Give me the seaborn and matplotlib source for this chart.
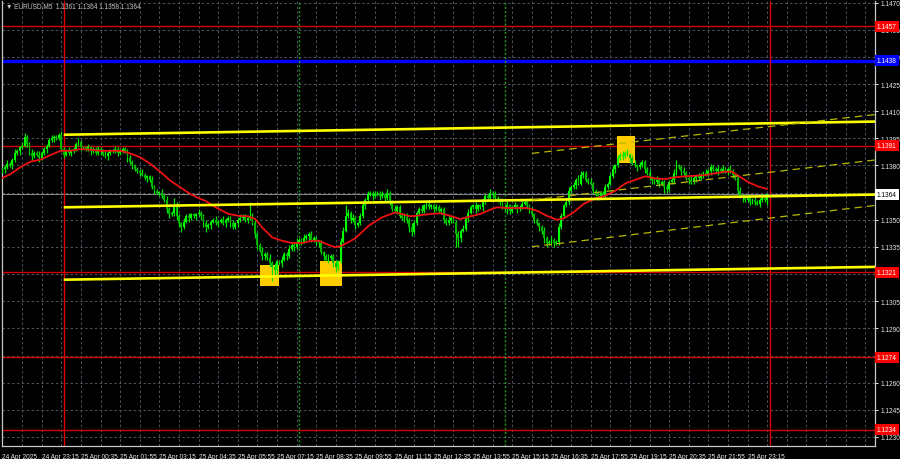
import numpy as np
import pandas as pd
import matplotlib
matplotlib.use("Agg")
import matplotlib.pyplot as plt
import matplotlib.transforms as mtransforms
from matplotlib import font_manager
import seaborn as sns

# ---------------- data (prices in pips above BASE) ----------------
BASE = 1.1300
PIP = 0.0001

CLOSE_PIPS = [
    78, 79, 81, 80, 83, 87, 88, 90, 91, 96, 92, 87, 85, 87, 86, 84, 87, 89, 91, 94,
    95, 96, 95, 97, 89, 86, 88, 87, 88, 89, 92, 93, 90, 90, 89, 90, 88, 89, 87, 89,
    88, 86, 85, 87, 88, 88, 89, 87, 88, 89, 88, 84, 82, 80, 78, 77, 76, 75, 73, 74,
    72, 68, 66, 65, 65, 63, 61, 56, 53, 54, 58, 52, 48, 46, 49, 52, 51, 53, 52, 53,
    54, 52, 48, 46, 47, 49, 50, 48, 49, 50, 48, 50, 51, 48, 46, 48, 50, 51, 52, 50,
    51, 52, 48, 42, 36, 33, 30, 31, 29, 26, 24, 22, 27, 26, 28, 31, 30, 34, 36, 35,
    38, 39, 38, 40, 41, 42, 39, 40, 38, 37, 32, 30, 28, 29, 30, 26, 24, 27, 38, 44,
    52, 54, 50, 51, 47, 48, 52, 58, 61, 64, 65, 63, 64, 65, 63, 64, 62, 65, 60, 56,
    55, 57, 52, 51, 53, 50, 46, 43, 48, 54, 56, 55, 58, 59, 57, 58, 56, 57, 55, 56,
    50, 48, 50, 51, 49, 42, 40, 44, 45, 51, 54, 57, 58, 56, 58, 57, 60, 63, 62, 65,
    64, 62, 61, 60, 57, 56, 58, 55, 57, 58, 56, 57, 59, 60, 58, 55, 53, 50, 48, 46,
    44, 40, 37, 38, 39, 37, 38, 46, 52, 58, 60, 66, 68, 69, 72, 70, 75, 76, 72, 71,
    70, 66, 64, 63, 65, 64, 68, 70, 74, 78, 80, 84, 86, 85, 87, 86, 84, 81, 80, 79,
    80, 82, 78, 76, 73, 72, 71, 72, 70, 71, 68, 67, 71, 72, 76, 80, 79, 77, 76, 73,
    72, 71, 73, 74, 73, 75, 76, 75, 77, 79, 78, 77, 78, 77, 78, 77, 78, 77, 75, 73,
    66, 63, 62, 61, 62, 60, 61, 60, 59, 61, 62, 61, 64,
]
FIRST_OPEN_PIPS = 77

UP_WICK = [
    1, 1, 2, 1, 1, 2, 1, 1, 2, 2, 1, 1, 2, 1, 1, 2, 1, 1, 1, 1,
    2, 1, 1, 1, 2, 1, 1, 2, 1, 1, 1, 2, 1, 1, 1, 2, 1, 1, 1, 2,
    1, 1, 2, 1, 1, 1, 2, 1, 1, 1, 1, 1, 2, 1, 1, 1, 1, 2, 1, 1,
    1, 2, 1, 1, 1, 2, 1, 2, 1, 1, 4, 2, 1, 1, 2, 1, 2, 1, 1, 1,
    2, 1, 1, 2, 1, 1, 1, 2, 1, 1, 2, 1, 1, 1, 2, 1, 1, 2, 1, 1,
    1, 8, 2, 2, 1, 1, 2, 1, 1, 2, 1, 2, 1, 1, 2, 1, 1, 2, 1, 1,
    2, 1, 1, 2, 1, 1, 2, 1, 1, 1, 2, 1, 1, 2, 1, 1, 2, 1, 2, 2,
    6, 2, 1, 2, 1, 1, 2, 2, 1, 2, 1, 1, 2, 1, 1, 2, 1, 2, 1, 1,
    2, 1, 1, 2, 1, 1, 1, 2, 2, 1, 1, 2, 1, 1, 2, 1, 1, 2, 1, 1,
    1, 1, 2, 1, 1, 1, 2, 1, 2, 1, 2, 1, 1, 2, 1, 1, 2, 1, 1, 2,
    1, 2, 1, 1, 2, 1, 3, 1, 1, 2, 1, 1, 2, 1, 1, 1, 2, 1, 1, 1,
    1, 2, 1, 1, 2, 1, 1, 2, 2, 1, 2, 2, 1, 2, 1, 3, 2, 1, 1, 1,
    2, 1, 1, 2, 1, 1, 2, 1, 2, 2, 1, 2, 1, 2, 1, 2, 1, 2, 2, 1,
    2, 1, 1, 1, 2, 1, 1, 2, 1, 1, 1, 2, 1, 2, 2, 3, 1, 1, 2, 1,
    1, 2, 1, 1, 2, 1, 1, 2, 1, 2, 1, 1, 2, 1, 2, 1, 1, 2, 1, 1,
    1, 2, 1, 1, 2, 1, 1, 2, 1, 1, 2, 1, 0,
]
DN_WICK = [
    1, 2, 1, 1, 2, 1, 1, 2, 1, 1, 2, 1, 2, 1, 1, 2, 1, 1, 2, 1,
    1, 2, 1, 1, 1, 2, 1, 1, 2, 1, 1, 1, 2, 1, 1, 1, 2, 1, 1, 1,
    2, 1, 1, 2, 1, 1, 1, 2, 1, 1, 1, 2, 1, 2, 1, 1, 2, 1, 1, 2,
    1, 1, 2, 1, 2, 1, 1, 2, 2, 1, 2, 2, 2, 3, 1, 1, 2, 1, 1, 2,
    1, 2, 2, 3, 1, 2, 1, 1, 2, 1, 1, 2, 1, 2, 1, 1, 2, 1, 1, 1,
    2, 1, 1, 2, 2, 1, 2, 2, 1, 2, 8, 3, 2, 1, 2, 1, 2, 1, 1, 2,
    1, 1, 2, 1, 1, 2, 1, 1, 2, 2, 1, 2, 1, 2, 1, 2, 3, 2, 1, 1,
    1, 1, 2, 1, 2, 1, 1, 1, 2, 1, 1, 2, 1, 1, 2, 1, 2, 1, 2, 1,
    1, 2, 1, 1, 2, 2, 3, 2, 1, 1, 2, 1, 1, 2, 1, 1, 2, 1, 1, 2,
    2, 1, 1, 2, 1, 7, 5, 2, 1, 1, 2, 1, 1, 2, 1, 1, 2, 1, 1, 1,
    2, 1, 1, 2, 1, 1, 3, 2, 1, 1, 2, 1, 1, 1, 2, 1, 1, 2, 1, 2,
    2, 3, 2, 1, 2, 2, 1, 2, 1, 1, 1, 2, 1, 1, 2, 1, 1, 2, 1, 1,
    1, 2, 1, 2, 1, 1, 2, 1, 1, 1, 2, 1, 1, 2, 1, 1, 2, 1, 1, 2,
    1, 1, 2, 1, 1, 2, 1, 1, 2, 1, 3, 2, 1, 1, 2, 1, 1, 2, 1, 1,
    2, 1, 1, 2, 1, 1, 2, 1, 1, 2, 1, 1, 2, 1, 1, 1, 2, 1, 2, 1,
    2, 1, 2, 1, 1, 2, 1, 2, 1, 2, 1, 1, 3,
]

# moving average
MA_BAR = [0, 3.3, 7.3, 11.4, 15.5, 19.6, 23.7, 27.7, 31.8, 35.9, 40, 44, 48.1, 51,
          56.3, 60.4, 64.4, 68.5, 72.6, 76.7, 80.8, 82.8, 86.9, 92.3, 96.4, 100.4,
          103.2, 105.9, 110, 114.1, 118.1, 122.2, 126.3, 129, 133.1, 135.8, 138.5,
          144, 149.4, 154.9, 160.3, 166.4, 174.5, 178.6, 182.7, 186.8, 190.9, 194.9,
          199, 201.8, 205.8, 214, 218.1, 222.1, 226.2, 229, 233, 237.1, 239.8, 241.8,
          245.9, 250, 254.1, 258.2, 262.2, 266.3, 270.4, 274.5, 278.6, 286.7, 290.8,
          294.9, 297.6, 300.3, 304.4, 308.5, 311.9]
MA_PIPS = [73.1, 75.3, 79.1, 82.1, 83.2, 85.8, 88.1, 88.1, 89.1, 88.7, 88.1, 88.1, 88.1,
           87.2, 84.5, 80.8, 76.5, 71.6, 67.9, 64.2, 61.5, 60.5, 56.9, 53.2, 52.2, 51.9,
           50.4, 45.8, 40.3, 38.4, 37.2, 37.2, 38.4, 38.4, 36.1, 34.8, 35.7, 39.8, 46.7,
           51.4, 54.1, 51.9, 53.2, 53.6, 52.2, 50.4, 51.9, 53.2, 55.6, 56.9, 56.5, 56.5,
           55.0, 52.2, 50.0, 50.8, 54.1, 58.7, 60.5, 61.8, 63.3, 66.0, 70.1, 72.1, 74.0,
           72.9, 72.5, 73.5, 74.0, 74.7, 75.7, 76.6, 76.6, 74.3, 70.7, 68.3, 67.0]

LEVEL_RED = [1.1457, 1.1391, 1.1321, 1.1274, 1.1234]
LEVEL_BLUE = 1.1438
LAST_PRICE = 1.1364

TREND_BARS = [25, 357]
TREND_UPPER = [97.0, 104.3]
TREND_MID = [56.9, 63.95]
TREND_LOWER = [16.9, 24.0]
CHAN_BARS = [216, 357]
CHAN_UPPER = [86.7, 108.3]
CHAN_MID = [60.9, 83.2]
CHAN_LOWER = [35.1, 58.1]

SIGNAL_BAR0 = [104.9, 129.7, 250.9]
SIGNAL_BAR1 = [112.9, 138.7, 258.0]
SIGNAL_LO = [13.6, 13.4, 81.2]
SIGNAL_HI = [25.2, 27.2, 96.1]

DAY_BREAK_BARS = [25, 313]
SESSION_BARS = [121, 205]

XTICK_LABELS = ["24 Apr 2025", "24 Apr 23:15", "25 Apr 00:35", "25 Apr 01:55",
                "25 Apr 03:15", "25 Apr 04:35", "25 Apr 05:55", "25 Apr 07:15",
                "25 Apr 08:35", "25 Apr 09:55", "25 Apr 11:15", "25 Apr 12:35",
                "25 Apr 13:55", "25 Apr 15:15", "25 Apr 16:35", "25 Apr 17:55",
                "25 Apr 19:15", "25 Apr 20:35", "25 Apr 21:55", "25 Apr 23:15"]
YTICK_PRICES = [1.1230, 1.1245, 1.1260, 1.1275, 1.1290, 1.1305, 1.1320, 1.1335,
                1.1350, 1.1365, 1.1380, 1.1395, 1.1410, 1.1425, 1.1440, 1.1455, 1.1470]
# tick labels hidden behind the coloured price boxes in the reference
YTICK_HIDDEN = [1.1275, 1.1320, 1.1365]
TITLE = "\u25BC EURUSD,M5  1.1361 1.1364 1.1358 1.1364"

# ---------------- build ----------------
n = len(CLOSE_PIPS)
close = BASE + np.array(CLOSE_PIPS, float) * PIP
opn = np.r_[BASE + FIRST_OPEN_PIPS * PIP, close[:-1]]
up = np.array(UP_WICK[:n] + [1] * max(0, n - len(UP_WICK)), float) * PIP
dn = np.array(DN_WICK[:n] + [1] * max(0, n - len(DN_WICK)), float) * PIP
high = np.maximum(opn, close) + up
low = np.minimum(opn, close) - dn
bars = np.arange(n)
df = pd.DataFrame({"bar": bars, "open": opn, "close": close, "high": high, "low": low})
ma = pd.DataFrame({"bar": MA_BAR, "price": BASE + np.array(MA_PIPS) * PIP})

sns.set_style("dark")


def pick_font():
    for name in ["Liberation Sans Narrow", "Liberation Sans", "DejaVu Sans"]:
        try:
            font_manager.findfont(name, fallback_to_default=False)
            return name
        except Exception:
            continue
    return "DejaVu Sans"


FONT = pick_font()
FS = 5.3 if "Narrow" in FONT else 4.7
plt.rcParams.update({"font.family": [FONT, "DejaVu Sans"],
                     "axes.facecolor": "black", "figure.facecolor": "black"})

W, H = 900, 460
fig = plt.figure(figsize=(W / 100, H / 100), dpi=100)
ax = fig.add_axes([2 / W, 1 - 447 / H, 873 / W, 445 / H])
ax.set_facecolor("black")

XMIN, XMAX = -0.2, 356.0
YMIN, YMAX = 1.12250, 1.14709
ax.set_xlim(XMIN, XMAX)
ax.set_ylim(YMIN, YMAX)

grid_kw = dict(color="#4d5560", lw=0.7, ls=(0, (2.5, 2.5)), zorder=0.5)
for p in YTICK_PRICES:
    ax.axhline(p, **grid_kw)
for b in range(8, 356, 8):
    ax.axvline(b, **grid_kw)

# horizontal levels
for p in LEVEL_RED:
    ax.axhline(p, color="#d00000", lw=1.0, zorder=1)
ax.axhline(LEVEL_BLUE, color="#0000ff", lw=2.4, zorder=1)
ax.axhline(LAST_PRICE, color="#8a8a8a", lw=0.7, zorder=1)

# vertical markers
for b in DAY_BREAK_BARS:
    ax.axvline(b, color="#e00000", lw=1.0, zorder=1)
for b in SESSION_BARS:
    ax.axvline(b, color="#1f9a1f", lw=1.0, ls=(0, (1.5, 1.5)), zorder=1)

# signal squares
for b0, b1, lo, hi in zip(SIGNAL_BAR0, SIGNAL_BAR1, SIGNAL_LO, SIGNAL_HI):
    ax.add_patch(plt.Rectangle((b0, BASE + lo * PIP), b1 - b0, (hi - lo) * PIP,
                               facecolor="#ffcc00", edgecolor="none", zorder=2))

# candles
bull = df["close"] >= df["open"]
ax.vlines(df["bar"], df["low"], df["high"], color="#00e600", lw=0.9, zorder=3)
body_lo = np.minimum(df["open"], df["close"])
body_h = np.maximum(np.abs(df["close"] - df["open"]), 0.00004)
ax.bar(df["bar"][bull], body_h[bull], bottom=body_lo[bull], width=0.75,
       color="#00ff00", linewidth=0, zorder=3.2)
ax.bar(df["bar"][~bull], body_h[~bull], bottom=body_lo[~bull], width=0.75,
       color="#00b400", linewidth=0, zorder=3.2)

# moving average
sns.lineplot(data=ma, x="bar", y="price", color="#ee1111", lw=1.3, ax=ax, zorder=4)

# trend lines
for vals in (TREND_UPPER, TREND_MID, TREND_LOWER):
    ax.plot(TREND_BARS, [BASE + v * PIP for v in vals], color="#ffff00", lw=1.9,
            zorder=5, solid_capstyle="butt")
for vals in (CHAN_UPPER, CHAN_MID, CHAN_LOWER):
    ax.plot(CHAN_BARS, [BASE + v * PIP for v in vals], color="#b8b800", lw=0.9,
            ls=(0, (6, 4)), zorder=5)

# axes styling
ax.spines["top"].set_visible(False)
for s in ["left", "right", "bottom"]:
    ax.spines[s].set_visible(True)
    ax.spines[s].set_color("#c8c8c8")
    ax.spines[s].set_linewidth(0.9)

ax.yaxis.tick_right()
ax.set_yticks(YTICK_PRICES)
ax.set_yticklabels(["" if any(abs(p - h) < 1e-6 for h in YTICK_HIDDEN) else f"{p:.4f}"
                    for p in YTICK_PRICES])
ax.tick_params(axis="y", colors="#e8e8e8", labelsize=FS, length=2.5, pad=1.2,
               width=0.7, right=True, left=False)
ax.set_xticks([16 * k for k in range(len(XTICK_LABELS))])
ax.set_xticklabels(XTICK_LABELS)
ax.tick_params(axis="x", colors="#e8e8e8", labelsize=FS, length=2.5, pad=2.2,
               width=0.7)
for lab in ax.get_xticklabels():
    lab.set_ha("left")
ax.set_xlabel("")
ax.set_ylabel("")
ax.grid(False)

# price boxes on the right
trans = mtransforms.blended_transform_factory(ax.transAxes, ax.transData)


def price_box(p, fc, tc):
    ax.text(1.0 + 2.0 / 873, p, f"{p:.4f}", transform=trans, ha="left", va="center",
            fontsize=FS, color=tc, clip_on=False, zorder=20,
            bbox=dict(boxstyle="square,pad=0.3", fc=fc, ec="none"))


for p in LEVEL_RED:
    price_box(p, "#ff0000", "#ffffff")
price_box(LEVEL_BLUE, "#0000ff", "#ffffff")
price_box(LAST_PRICE, "#ffffff", "#000000")

fig.text(6 / W, 1 - 6.5 / H, TITLE, color="#c8c8c8", fontsize=FS, ha="left", va="center")

fig.savefig("out.png", dpi=100, facecolor="black")
